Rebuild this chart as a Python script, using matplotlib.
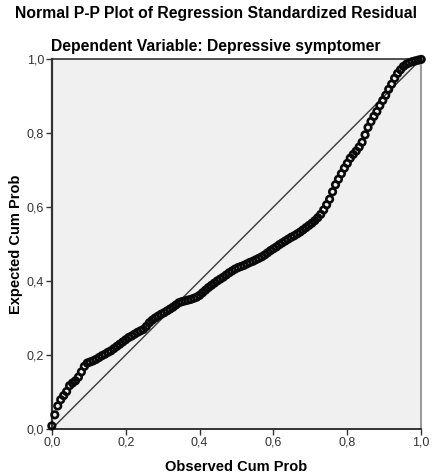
#!/usr/bin/env python3
"""Normal P-P plot of regression standardized residual (SPSS style)."""

import matplotlib
matplotlib.use("Agg")
import matplotlib.pyplot as plt
from matplotlib.ticker import FuncFormatter

# observed cumulative probability (x) and expected cumulative probability (y)
observed_cum_prob = [
    0.000, 0.008, 0.016, 0.024, 0.032, 0.040, 0.048, 0.056, 0.064, 0.072,
    0.080, 0.088, 0.096, 0.104, 0.112, 0.120, 0.128, 0.136, 0.144, 0.152,
    0.160, 0.168, 0.176, 0.184, 0.192, 0.200, 0.208, 0.216, 0.224, 0.232,
    0.240, 0.248, 0.256, 0.264, 0.272, 0.280, 0.288, 0.296, 0.304, 0.312,
    0.320, 0.328, 0.336, 0.344, 0.352, 0.360, 0.368, 0.376, 0.384, 0.392,
    0.400, 0.408, 0.416, 0.424, 0.432, 0.440, 0.448, 0.456, 0.464, 0.472,
    0.480, 0.488, 0.496, 0.504, 0.512, 0.520, 0.528, 0.536, 0.544, 0.552,
    0.560, 0.568, 0.576, 0.584, 0.592, 0.600, 0.608, 0.616, 0.624, 0.632,
    0.640, 0.648, 0.656, 0.664, 0.672, 0.680, 0.688, 0.696, 0.704, 0.712,
    0.720, 0.728, 0.736, 0.744, 0.752, 0.760, 0.768, 0.776, 0.784, 0.792,
    0.800, 0.808, 0.816, 0.824, 0.832, 0.840, 0.848, 0.856, 0.864, 0.872,
    0.880, 0.888, 0.896, 0.904, 0.912, 0.920, 0.928, 0.936, 0.944, 0.952,
    0.960, 0.968, 0.976, 0.984, 0.992, 1.000,
]
expected_cum_prob = [
    0.008, 0.038, 0.062, 0.079, 0.090, 0.101, 0.117, 0.124, 0.130, 0.140,
    0.154, 0.169, 0.178, 0.181, 0.184, 0.188, 0.193, 0.198, 0.202, 0.207,
    0.211, 0.217, 0.223, 0.229, 0.235, 0.241, 0.247, 0.251, 0.256, 0.261,
    0.265, 0.269, 0.277, 0.287, 0.294, 0.300, 0.305, 0.310, 0.314, 0.319,
    0.324, 0.329, 0.335, 0.341, 0.344, 0.346, 0.348, 0.350, 0.353, 0.356,
    0.361, 0.368, 0.375, 0.382, 0.388, 0.394, 0.400, 0.405, 0.410, 0.416,
    0.422, 0.427, 0.432, 0.436, 0.439, 0.442, 0.446, 0.450, 0.453, 0.457,
    0.461, 0.465, 0.470, 0.476, 0.482, 0.487, 0.492, 0.498, 0.503, 0.508,
    0.513, 0.518, 0.522, 0.527, 0.532, 0.538, 0.544, 0.550, 0.556, 0.563,
    0.571, 0.580, 0.592, 0.606, 0.621, 0.641, 0.660, 0.675, 0.690, 0.705,
    0.718, 0.732, 0.742, 0.751, 0.762, 0.775, 0.795, 0.815, 0.831, 0.845,
    0.858, 0.874, 0.888, 0.902, 0.918, 0.932, 0.948, 0.961, 0.971, 0.980,
    0.986, 0.990, 0.993, 0.995, 0.997, 0.999,
]
ticks = [0.0, 0.2, 0.4, 0.6, 0.8, 1.0]

title = "Normal P-P Plot of Regression Standardized Residual"
subtitle = "Dependent Variable: Depressive symptomer"
xlabel = "Observed Cum Prob"
ylabel = "Expected Cum Prob"

plt.rcParams["font.family"] = ["Liberation Sans", "DejaVu Sans"]

fig = plt.figure(figsize=(4.32, 4.76), dpi=100)
ax = fig.add_axes([0.120, 0.099, 0.855, 0.777])
ax.set_facecolor("#f0f0f0")

# reference diagonal
ax.plot([0, 1], [0, 1], color="#3a3a3a", lw=1.0, zorder=2)

ax.scatter(observed_cum_prob, expected_cum_prob, s=22, facecolors="none",
           edgecolors="#0a0a0a", linewidths=1.9, zorder=3, clip_on=False)

ax.set_xlim(0, 1)
ax.set_ylim(0, 1)
ax.set_xticks(ticks)
ax.set_yticks(ticks)
fmt = FuncFormatter(lambda v, p: f"{v:.1f}".replace(".", ","))
ax.xaxis.set_major_formatter(fmt)
ax.yaxis.set_major_formatter(fmt)
ax.tick_params(direction="out", length=4, width=1, color="#333333",
               labelsize=9, labelcolor="#333333", pad=1.5)

for side in ["left", "bottom", "top"]:
    ax.spines[side].set_color("#333333")
ax.spines["left"].set_linewidth(1.6)
ax.spines["bottom"].set_linewidth(1.4)
ax.spines["top"].set_linewidth(1.2)
ax.spines["right"].set_color("#888888")
ax.spines["right"].set_linewidth(1.2)

ax.set_xlabel(xlabel, fontsize=10.5, fontweight="bold", labelpad=8)
ax.set_ylabel(ylabel, fontsize=10.5, fontweight="bold", labelpad=3)

fig.text(0.5, 0.971, title, ha="center", va="center", fontsize=11.3,
         fontweight="bold")
fig.text(0.5, 0.902, subtitle, ha="center", va="center", fontsize=11.3,
         fontweight="bold")

fig.savefig("out.png", dpi=100)
